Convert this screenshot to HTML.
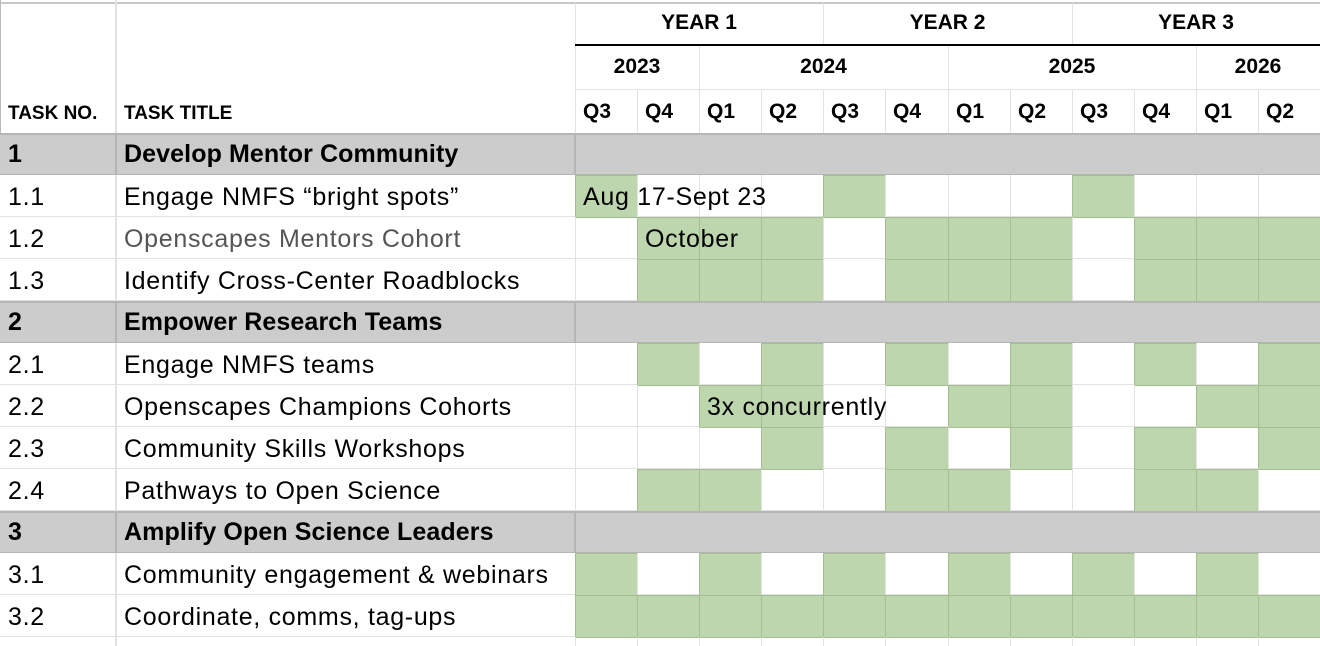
<!DOCTYPE html>
<html><head><meta charset="utf-8"><style>
body{margin:0;width:1320px;height:646px;overflow:hidden;background:#fff;font-family:"Liberation Sans",Arial,sans-serif;}
#g{position:absolute;left:0;top:0;width:1320px;height:646px;}
.c{position:absolute;box-sizing:border-box;white-space:nowrap;}
.t{position:absolute;white-space:nowrap;color:#000;}
</style></head><body>
<div id="g"></div>
<script>
const quarters=["Q3","Q4","Q1","Q2","Q3","Q4","Q1","Q2","Q3","Q4","Q1","Q2"];
const years=[["2023",2],["2024",4],["2025",4],["2026",2]];
const periods=[["YEAR 1",4],["YEAR 2",4],["YEAR 3",4]];
const taskNos=["1","1.1","1.2","1.3","2","2.1","2.2","2.3","2.4","3","3.1","3.2"];
const taskTitles=["Develop Mentor Community","Engage NMFS “bright spots”","Openscapes Mentors Cohort","Identify Cross-Center Roadblocks","Empower Research Teams","Engage NMFS teams","Openscapes Champions Cohorts","Community Skills Workshops","Pathways to Open Science","Amplify Open Science Leaders","Community engagement & webinars","Coordinate, comms, tag-ups"];
const isSection=[1,0,0,0,1,0,0,0,0,1,0,0];
const active=[
[],
[1,0,0,0,1,0,0,0,1,0,0,0],
[0,1,1,1,0,1,1,1,0,1,1,1],
[0,1,1,1,0,1,1,1,0,1,1,1],
[],
[0,1,0,1,0,1,0,1,0,1,0,1],
[0,0,1,1,0,0,1,1,0,0,1,1],
[0,0,0,1,0,1,0,1,0,1,0,1],
[0,1,1,0,0,1,1,0,0,1,1,0],
[],
[1,0,1,0,1,0,1,0,1,0,1,0],
[1,1,1,1,1,1,1,1,1,1,1,1]];
const notes=[null,["Aug 17-Sept 23",0],["October",1],null,null,null,["3x concurrently",2],null,null,null,null,null];

const g=document.getElementById('g');
const X0=575,QW=745/12,ROW0=133,RH=42;
const qx=i=>Math.round(X0+i*QW);
function box(x,y,w,h,css){const d=document.createElement('div');d.className='c';d.style.cssText=`left:${x}px;top:${y}px;width:${w}px;height:${h}px;`+css;g.appendChild(d);return d;}
function txt(s,x,y,css){const d=document.createElement('div');d.className='t';d.textContent=s;d.style.cssText=`left:${x}px;top:${y}px;`+css;g.appendChild(d);return d;}
const light='#e2e2e2';
const BODY='font-size:25px;letter-spacing:0.7px;';
const hb=box(0,0,1320,133,`border-top:2px solid #c8c8c8;background:#fff;top:2px;height:131px;`);


box(115,0,2,133,`background:${light};`);
box(0,0,1,133,`background:#bbb;`);
let acc=0;
periods.forEach(p=>{const x=qx(acc),w=qx(acc+p[1])-x;
 box(x,3,1,42,`background:${light};`);
 const t=txt(p[0],x,11,`width:${w}px;text-align:center;font-weight:bold;font-size:21px;`);
 
 
 acc+=p[1];});
box(575,44,745,2,'background:#000;');
acc=0;
years.forEach(y=>{const x=qx(acc),w=qx(acc+y[1])-x;
 box(x,46,1,44,`background:${light};`);
 const t=txt(y[0],x,55,`width:${w}px;text-align:center;font-weight:bold;font-size:21px;`);
 
 
 acc+=y[1];});
box(575,89,745,1,`background:${light};`);
quarters.forEach((q,i)=>{box(qx(i),90,1,43,`background:${light};`);
 const t=txt(q,qx(i)+8,100,`font-weight:bold;font-size:21px;`);
 
 });
let h=txt("TASK NO.",8,103,'font-weight:bold;font-size:19px;letter-spacing:0px;');


h=txt("TASK TITLE",124,103,'font-weight:bold;font-size:19px;letter-spacing:0px;');



taskNos.forEach((no,r)=>{
 const y=ROW0+r*RH;
 if(isSection[r]){
  const b=box(0,y,1320,RH,'background:#cccccc;border-top:2px solid #b5b5b5;border-bottom:1px solid #b5b5b5;');
  
  
  box(115,y,2,RH,'background:#b5b5b5;');box(574,y,2,RH,'background:#b5b5b5;');
  txt(no,8,y+7,'font-weight:bold;font-size:25px;');
  const t=txt(taskTitles[r],124,y+7,'font-weight:bold;font-size:25px;letter-spacing:0.1px;');
  
  
  return;
 }
 box(0,y+RH-1,1320,1,`background:${light};`);
 box(115,y,2,RH,`background:${light};`);
 txt(no,8,y+8,BODY);
 const t=txt(taskTitles[r],124,y+8,BODY+(r==2?'color:#555;':''));
 
 
 active[r].forEach((a,i)=>{
  const x=qx(i),w=qx(i+1)-x;
  if(a){const c=box(x,y,w+1,RH+1,'background:#bdd6ad;border:1px solid #a3bf92;');
   
   }
  else box(x,y,1,RH,`background:${light};`);
 });
 if(notes[r]){const n=txt(notes[r][0],qx(notes[r][1])+8,y+8,BODY);
  
  }
});
const yl=ROW0+12*RH;
box(115,yl,2,646-yl,`background:${light};`);
for(let i=0;i<12;i++)box(qx(i),yl,1,646-yl,`background:${light};`);
</script>
</body></html>
